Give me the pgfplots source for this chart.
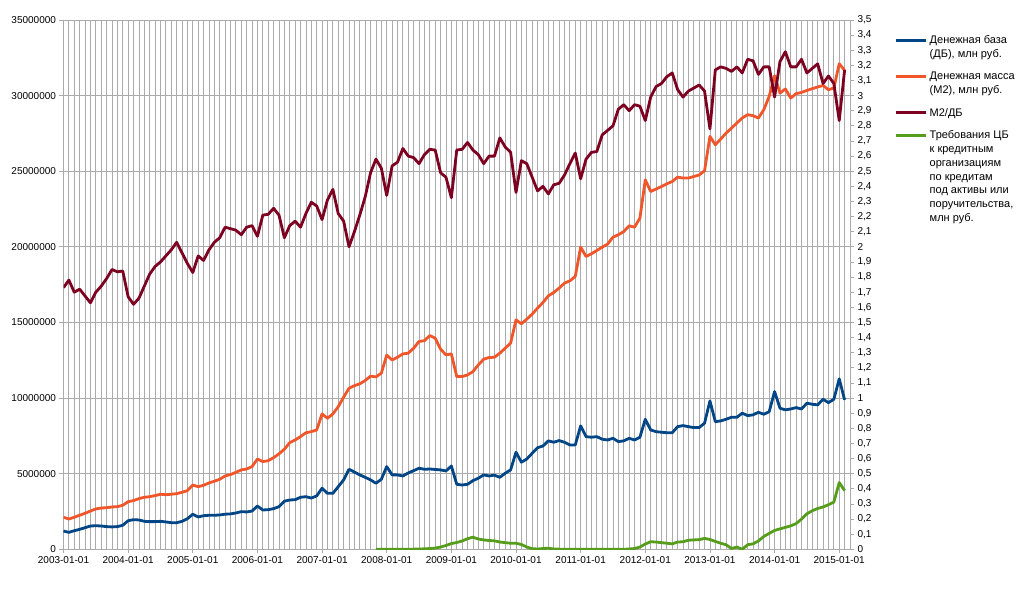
\documentclass[border=0pt]{standalone}
\usepackage{fontspec}
\setmainfont{Liberation Sans}
\usepackage{pgfplots}
\usepackage{pgfplotstable}
\pgfplotsset{compat=1.18}

\definecolor{cMB}{HTML}{004586}
\definecolor{cM2}{HTML}{F0562A}
\definecolor{cRat}{HTML}{7E0021}
\definecolor{cCB}{HTML}{579D1C}
\definecolor{cGrid}{HTML}{ABABAB}

% i = month since 2003-01; mb, m2 in mln rub; ratio = M2/MB
\pgfplotstableread{
i mb m2 ratio
0 1210000 2120000 1.73
1 1120000 2000000 1.78
2 1230000 2120000 1.70
3 1320000 2250000 1.72
4 1430000 2380000 1.675
5 1540000 2530000 1.63
6 1560000 2670000 1.70
7 1540000 2730000 1.74
8 1500000 2750000 1.79
9 1480000 2800000 1.85
10 1500000 2820000 1.835
11 1590000 2910000 1.84
12 1890000 3150000 1.67
13 1960000 3220000 1.62
14 1940000 3350000 1.66
15 1850000 3440000 1.74
16 1830000 3480000 1.82
17 1830000 3550000 1.87
18 1850000 3640000 1.90
19 1810000 3610000 1.94
20 1760000 3640000 1.98
21 1760000 3680000 2.03
22 1850000 3770000 1.96
23 2020000 3880000 1.89
24 2320000 4250000 1.83
25 2140000 4140000 1.94
26 2220000 4230000 1.91
27 2250000 4390000 1.98
28 2250000 4500000 2.03
29 2270000 4630000 2.06
30 2320000 4850000 2.13
31 2340000 4940000 2.12
32 2400000 5090000 2.11
33 2490000 5250000 2.08
34 2470000 5310000 2.13
35 2530000 5470000 2.14
36 2860000 5970000 2.07
37 2600000 5800000 2.21
38 2620000 5860000 2.215
39 2690000 6060000 2.255
40 2820000 6310000 2.21
41 3180000 6620000 2.06
42 3260000 7050000 2.14
43 3280000 7230000 2.17
44 3440000 7450000 2.13
45 3480000 7710000 2.22
46 3390000 7780000 2.295
47 3530000 7890000 2.27
48 4040000 8950000 2.18
49 3700000 8670000 2.31
50 3700000 8950000 2.38
51 4140000 9430000 2.22
52 4590000 10060000 2.17
53 5290000 10650000 2.00
54 5110000 10820000 2.10
55 4920000 10940000 2.21
56 4760000 11160000 2.33
57 4590000 11450000 2.49
58 4370000 11400000 2.58
59 4630000 11650000 2.52
60 5470000 12840000 2.34
61 4920000 12520000 2.535
62 4920000 12700000 2.56
63 4850000 12920000 2.65
64 5050000 12970000 2.60
65 5200000 13300000 2.59
66 5360000 13740000 2.55
67 5290000 13800000 2.61
68 5310000 14130000 2.645
69 5280000 13960000 2.64
70 5250000 13230000 2.49
71 5180000 12860000 2.46
72 5510000 12920000 2.325
73 4300000 11420000 2.64
74 4250000 11420000 2.645
75 4300000 11530000 2.69
76 4540000 11750000 2.64
77 4700000 12190000 2.61
78 4920000 12570000 2.55
79 4850000 12680000 2.60
80 4900000 12700000 2.60
81 4760000 12970000 2.72
82 5030000 13300000 2.66
83 5250000 13630000 2.625
84 6420000 15170000 2.36
85 5760000 14910000 2.57
86 5970000 15220000 2.55
87 6350000 15550000 2.46
88 6720000 15950000 2.37
89 6830000 16320000 2.40
90 7170000 16760000 2.35
91 7080000 16980000 2.41
92 7190000 17270000 2.42
93 7080000 17600000 2.475
94 6900000 17750000 2.55
95 6900000 18040000 2.62
96 8160000 19980000 2.45
97 7450000 19360000 2.58
98 7410000 19540000 2.625
99 7450000 19760000 2.63
100 7280000 19980000 2.74
101 7230000 20180000 2.77
102 7340000 20640000 2.80
103 7120000 20800000 2.91
104 7170000 21010000 2.94
105 7340000 21390000 2.90
106 7230000 21300000 2.94
107 7410000 21900000 2.93
108 8600000 24430000 2.835
109 7890000 23660000 2.99
110 7780000 23820000 3.06
111 7740000 23990000 3.08
112 7710000 24170000 3.125
113 7710000 24320000 3.15
114 8110000 24610000 3.04
115 8180000 24550000 2.99
116 8110000 24550000 3.03
117 8050000 24650000 3.05
118 8050000 24750000 3.07
119 8340000 25030000 3.03
120 9810000 27300000 2.78
121 8440000 26750000 3.17
122 8490000 27130000 3.19
123 8600000 27520000 3.18
124 8730000 27850000 3.16
125 8730000 28190000 3.19
126 9000000 28520000 3.15
127 8840000 28740000 3.24
128 8890000 28670000 3.23
129 9060000 28520000 3.14
130 8930000 29070000 3.19
131 9100000 29950000 3.19
132 10430000 31320000 2.99
133 9330000 30170000 3.225
134 9220000 30440000 3.29
135 9280000 29840000 3.19
136 9370000 30130000 3.19
137 9280000 30210000 3.24
138 9660000 30340000 3.15
139 9590000 30460000 3.18
140 9550000 30570000 3.21
141 9920000 30670000 3.08
142 9700000 30390000 3.13
143 9920000 30500000 3.08
144 11270000 32110000 2.835
145 9880000 31670000 3.17
}\money

% CB claims on credit institutions, mln rub (from 2007-11)
\pgfplotstableread{
i cb
58 0
59 0
60 0
61 0
62 0
63 0
64 0
65 10000
66 20000
67 30000
68 50000
69 80000
70 150000
71 250000
72 380000
73 450000
74 550000
75 700000
76 800000
77 680000
78 620000
79 580000
80 560000
81 480000
82 440000
83 400000
84 400000
85 320000
86 150000
87 40000
88 20000
89 50000
90 70000
91 20000
92 10000
93 0
94 0
95 0
96 0
97 0
98 0
99 0
100 0
101 0
102 0
103 0
104 0
105 20000
106 50000
107 150000
108 350000
109 500000
110 480000
111 440000
112 400000
113 360000
114 480000
115 500000
116 600000
117 620000
118 640000
119 720000
120 650000
121 520000
122 400000
123 300000
124 50000
125 150000
126 0
127 300000
128 360000
129 550000
130 850000
131 1050000
132 1250000
133 1350000
134 1450000
135 1550000
136 1700000
137 2000000
138 2350000
139 2550000
140 2700000
141 2800000
142 2950000
143 3120000
144 4410000
145 3880000
}\claims

\pgfplotsset{
  base/.style={
    scale only axis, width=786.5pt, height=529.3pt,
    at={(63.5pt,39.7pt)}, anchor=south west,
    xmin=0, xmax=146,
    axis line style={cGrid, line width=0.8pt},
    tick style={cGrid, line width=0.8pt},
    tick align=outside, major tick length=4pt,
    ticklabel style={font=\fontsize{10}{12}\selectfont, text=black},
  },
  series/.style={line width=2.8pt, line join=round},
  % legend sample raised to the first text line of an entry
  legshift/.style={legend image code/.code={\draw[##1, line width=2.8pt] (0pt,#1) -- (30pt,#1);}},
}

\begin{document}
\begin{tikzpicture}
\path[use as bounding box] (0,0) rectangle (1020pt,589pt);

\begin{axis}[base,
  axis x line*=bottom, axis y line*=left,
  ymin=0, ymax=35000000,
  ytick={0,5000000,10000000,15000000,20000000,25000000,30000000,35000000},
  scaled y ticks=false,
  yticklabel style={/pgf/number format/.cd, fixed, 1000 sep={}, assume math mode=true},
  xtick={0,12,24,36,48,60,72,84,96,108,120,132,144},
  xticklabels={2003-01-01,2004-01-01,2005-01-01,2006-01-01,2007-01-01,2008-01-01,2009-01-01,2010-01-01,2011-01-01,2012-01-01,2013-01-01,2014-01-01,2015-01-01},
  minor xtick={0,1,...,146},
  xmajorgrids, xminorgrids, ymajorgrids,
  grid style={cGrid, line width=0.8pt},
  minor grid style={cGrid, line width=0.8pt},
  minor tick length=0pt,
]
\addplot[series, cCB] table[x=i, y=cb] {\claims};
\addplot[series, cMB] table[x=i, y=mb] {\money};
\addplot[series, cM2] table[x=i, y=m2] {\money};
\end{axis}

\begin{axis}[base,
  axis x line=none, axis y line*=right,
  ymin=0, ymax=3.5,
  ytick={0,0.1,0.2,0.3,0.4,0.5,0.6,0.7,0.8,0.9,1,1.1,1.2,1.3,1.4,1.5,1.6,1.7,1.8,1.9,2,2.1,2.2,2.3,2.4,2.5,2.6,2.7,2.8,2.9,3,3.1,3.2,3.3,3.4,3.5},
  yticklabel style={anchor=west, /pgf/number format/.cd, fixed, precision=1, use comma, assume math mode=true},
  legend style={draw=none, fill=none, at={(1.053,0.978)}, anchor=north west,
    font=\fontsize{11}{13.8}\selectfont, row sep=9pt,
    cells={anchor=west, align=left}},
  legshift=0pt,
]
\addlegendimage{cMB, legshift=6.9pt}
\addlegendentry{Денежная база\\(ДБ), млн руб.}
\addlegendimage{cM2, legshift=6.9pt}
\addlegendentry{Денежная масса\\(М2), млн руб.}
\addplot[series, cRat] table[x=i, y=ratio] {\money};
\addlegendentry{М2/ДБ}
\addlegendimage{cCB, legshift=41.4pt}
\addlegendentry{Требования ЦБ\\к кредитным\\организациям\\по кредитам\\под активы или\\поручительства,\\млн руб.}
\end{axis}
\end{tikzpicture}
\end{document}
